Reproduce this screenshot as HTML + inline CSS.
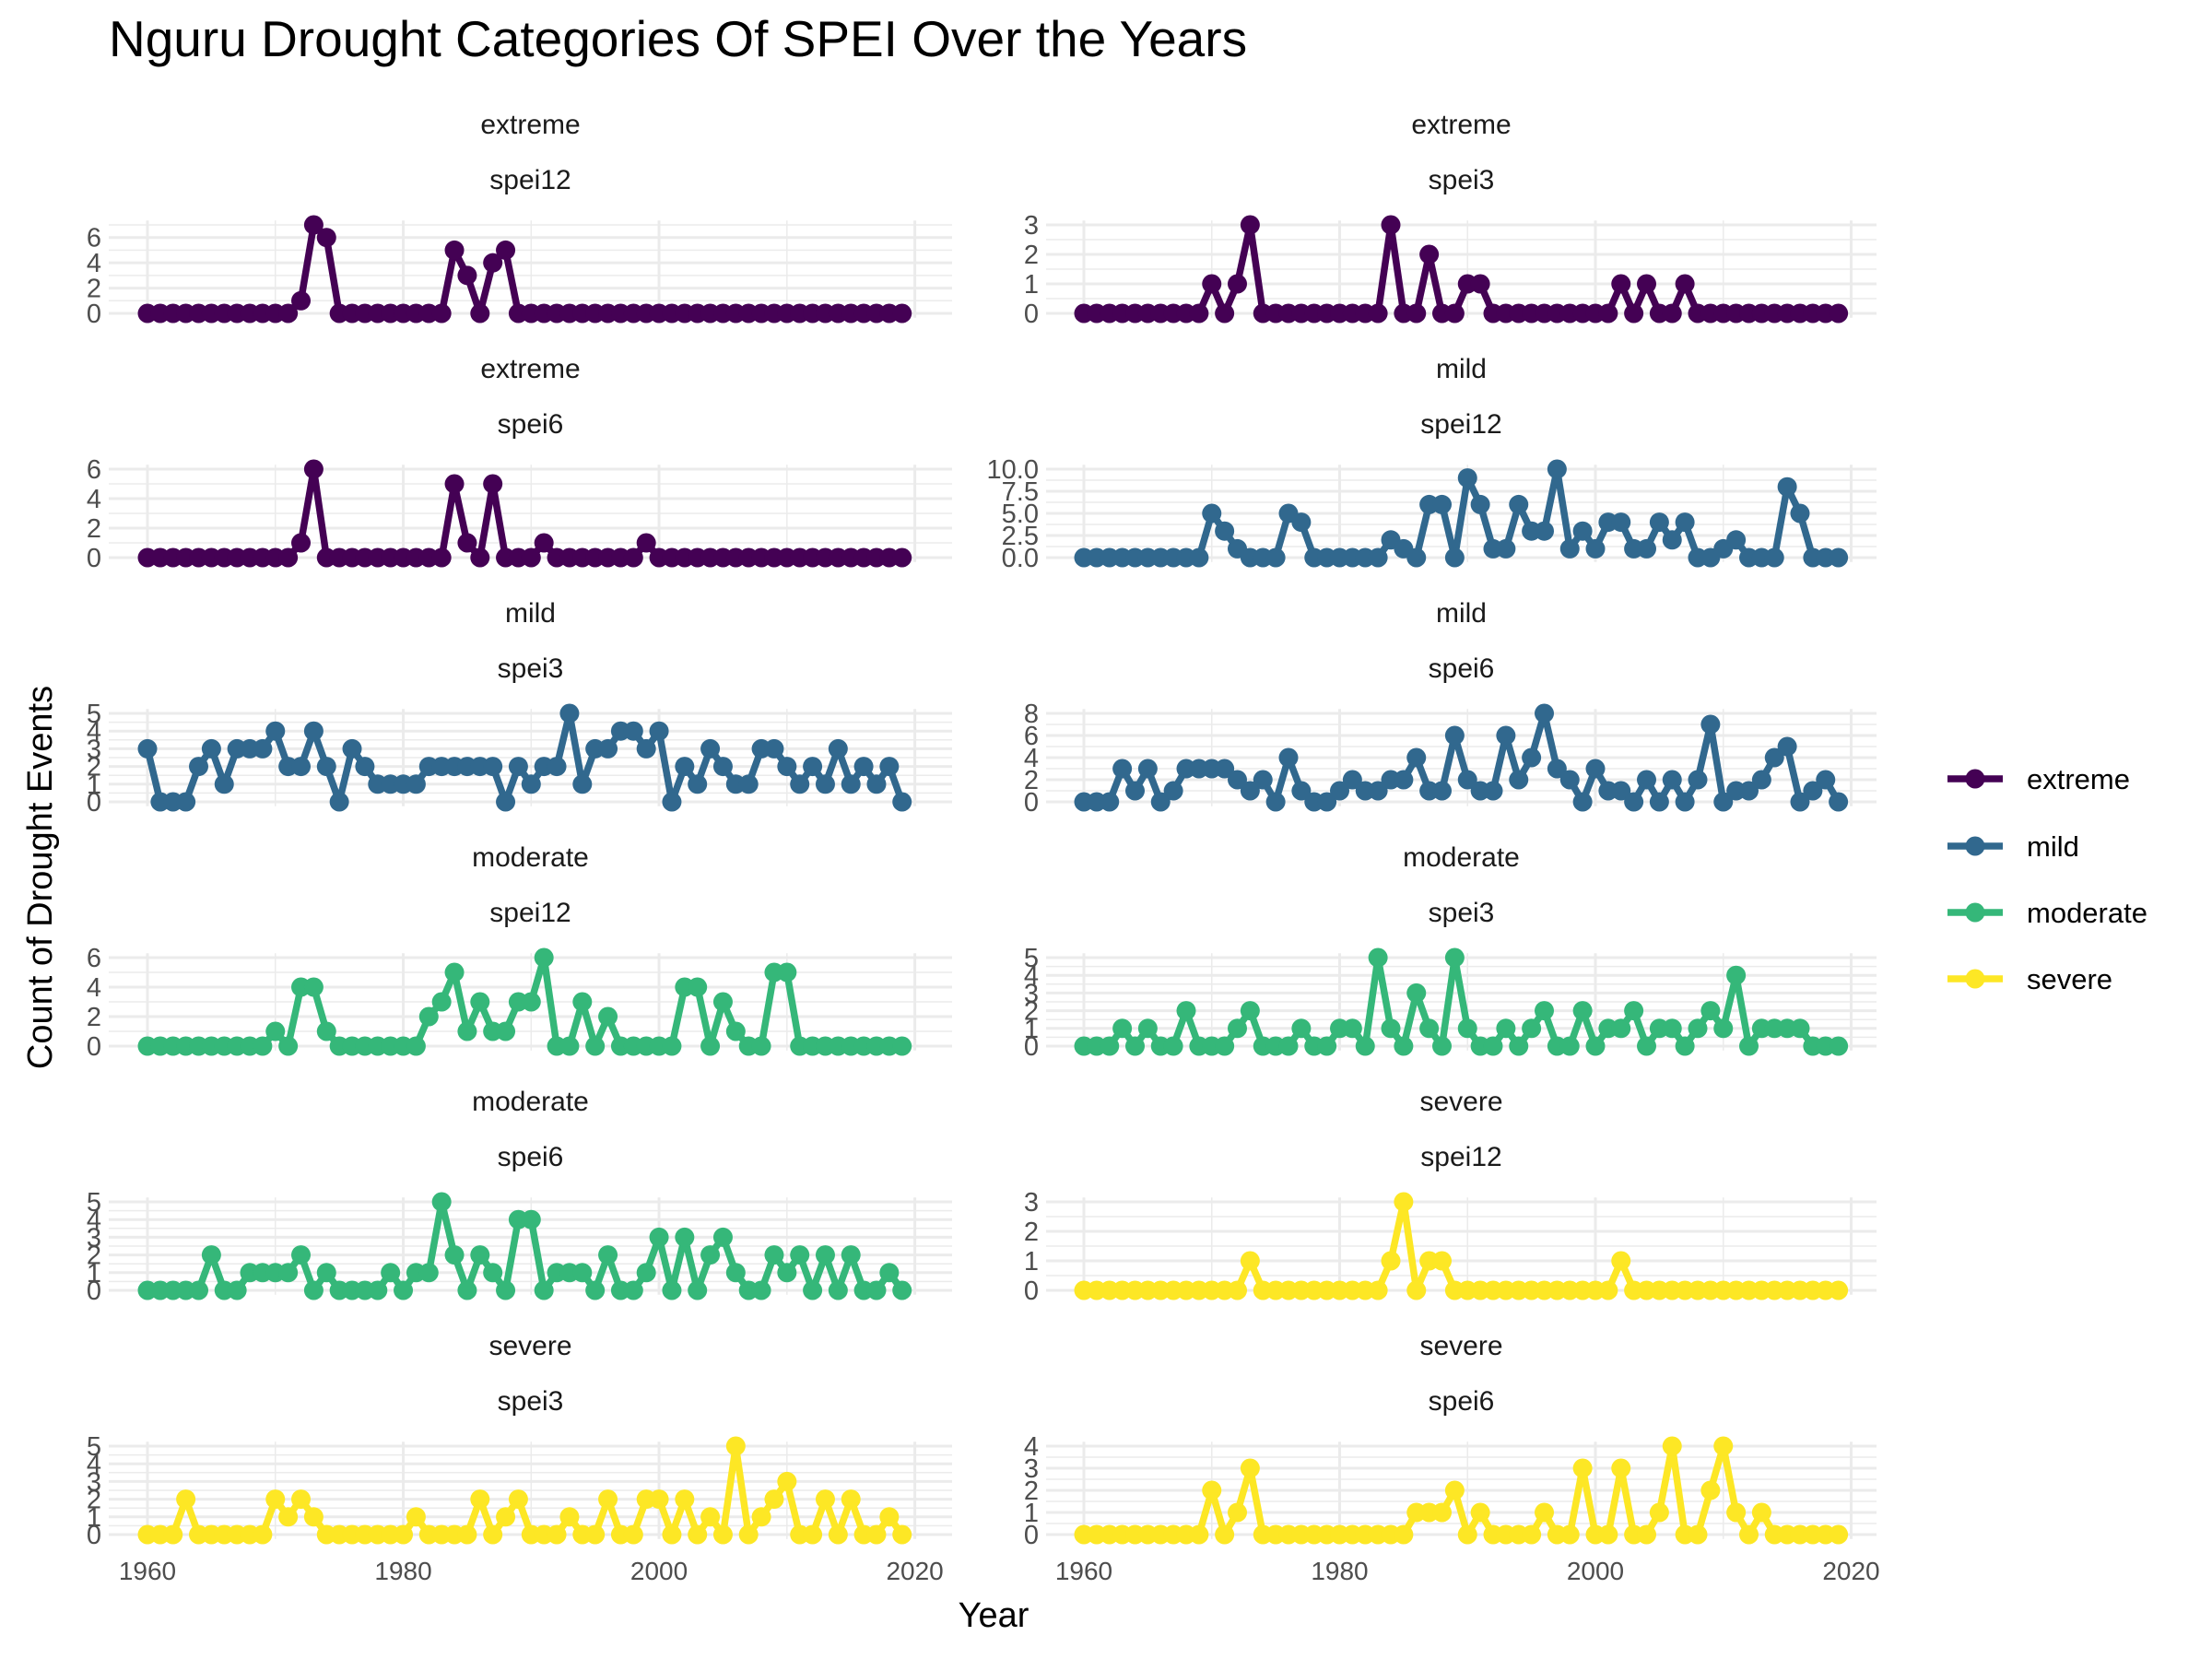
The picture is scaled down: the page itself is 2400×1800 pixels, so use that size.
<!DOCTYPE html>
<html>
<head>
<meta charset="utf-8">
<style>
  html,body{margin:0;padding:0;background:#fff;}
  svg{display:block;font-family:"Liberation Sans",Arial,sans-serif;}
</style>
</head>
<body>
<svg id="chart" width="2400" height="1800" viewBox="0 0 2400 1800" xmlns="http://www.w3.org/2000/svg">
  <rect x="0" y="0" width="2400" height="1800" fill="#ffffff"/>
  <text x="118" y="61" font-size="55" fill="#000">Nguru Drought Categories Of SPEI Over the Years</text>
  <text x="1078" y="1765" font-size="38" text-anchor="middle" fill="#000">Year</text>
  <text x="0" y="0" font-size="38" text-anchor="middle" fill="#000" transform="translate(56,952) rotate(-90)">Count of Drought Events</text>
  <g id="panels"></g>
  <g id="legend"></g>
</svg>
<script>
const years = [];
for (let y = 1960; y <= 2019; y++) years.push(y);
const categories = ["extreme","mild","moderate","severe"];
const extremeSpei12 = [0,0,0,0,0,0,0,0,0,0, 0,0,1,7,6,0,0,0,0,0, 0,0,0,0,5,3,0,4,5,0, 0,0,0,0,0,0,0,0,0,0, 0,0,0,0,0,0,0,0,0,0, 0,0,0,0,0,0,0,0,0,0];
const extremeSpei3 = [0,0,0,0,0,0,0,0,0,0, 1,0,1,3,0,0,0,0,0,0, 0,0,0,0,3,0,0,2,0,0, 1,1,0,0,0,0,0,0,0,0, 0,0,1,0,1,0,0,1,0,0, 0,0,0,0,0,0,0,0,0,0];
const extremeSpei6 = [0,0,0,0,0,0,0,0,0,0, 0,0,1,6,0,0,0,0,0,0, 0,0,0,0,5,1,0,5,0,0, 0,1,0,0,0,0,0,0,0,1, 0,0,0,0,0,0,0,0,0,0, 0,0,0,0,0,0,0,0,0,0];
const mildSpei12 = [0,0,0,0,0,0,0,0,0,0, 5,3,1,0,0,0,5,4,0,0, 0,0,0,0,2,1,0,6,6,0, 9,6,1,1,6,3,3,10,1,3, 1,4,4,1,1,4,2,4,0,0, 1,2,0,0,0,8,5,0,0,0];
const mildSpei3 = [3,0,0,0,2,3,1,3,3,3, 4,2,2,4,2,0,3,2,1,1, 1,1,2,2,2,2,2,2,0,2, 1,2,2,5,1,3,3,4,4,3, 4,0,2,1,3,2,1,1,3,3, 2,1,2,1,3,1,2,1,2,0];
const mildSpei6 = [0,0,0,3,1,3,0,1,3,3, 3,3,2,1,2,0,4,1,0,0, 1,2,1,1,2,2,4,1,1,6, 2,1,1,6,2,4,8,3,2,0, 3,1,1,0,2,0,2,0,2,7, 0,1,1,2,4,5,0,1,2,0];
const moderateSpei12 = [0,0,0,0,0,0,0,0,0,0, 1,0,4,4,1,0,0,0,0,0, 0,0,2,3,5,1,3,1,1,3, 3,6,0,0,3,0,2,0,0,0, 0,0,4,4,0,3,1,0,0,5, 5,0,0,0,0,0,0,0,0,0];
const moderateSpei3 = [0,0,0,1,0,1,0,0,2,0, 0,0,1,2,0,0,0,1,0,0, 1,1,0,5,1,0,3,1,0,5, 1,0,0,1,0,1,2,0,0,2, 0,1,1,2,0,1,1,0,1,2, 1,4,0,1,1,1,1,0,0,0];
const moderateSpei6 = [0,0,0,0,0,2,0,0,1,1, 1,1,2,0,1,0,0,0,0,1, 0,1,1,5,2,0,2,1,0,4, 4,0,1,1,1,0,2,0,0,1, 3,0,3,0,2,3,1,0,0,2, 1,2,0,2,0,2,0,0,1,0];
const severeSpei12 = [0,0,0,0,0,0,0,0,0,0, 0,0,0,1,0,0,0,0,0,0, 0,0,0,0,1,3,0,1,1,0, 0,0,0,0,0,0,0,0,0,0, 0,0,1,0,0,0,0,0,0,0, 0,0,0,0,0,0,0,0,0,0];
const severeSpei3 = [0,0,0,2,0,0,0,0,0,0, 2,1,2,1,0,0,0,0,0,0, 0,1,0,0,0,0,2,0,1,2, 0,0,0,1,0,0,2,0,0,2, 2,0,2,0,1,0,5,0,1,2, 3,0,0,2,0,2,0,0,1,0];
const severeSpei6 = [0,0,0,0,0,0,0,0,0,0, 2,0,1,3,0,0,0,0,0,0, 0,0,0,0,0,0,1,1,1,2, 0,1,0,0,0,0,1,0,0,3, 0,0,3,0,0,1,4,0,0,2, 4,1,0,1,0,0,0,0,0,0];
const xTicks = [1960,1980,2000,2020];
const xMinor = [1970,1990,2010];
const ticks12ext = [0,2,4,6];
const ticks3ext = [0,1,2,3];
const ticks6ext = [0,2,4,6];
const ticks12mild = [0,2.5,5,7.5,10];
const tickLabels12mild = ["0.0","2.5","5.0","7.5","10.0"];
const ticks3mild = [0,1,2,3,4,5];
const ticks6mild = [0,2,4,6,8];
const ticks12mod = [0,2,4,6];
const ticks3mod = [0,1,2,3,4,5];
const ticks6mod = [0,1,2,3,4,5];
const ticks12sev = [0,1,2,3];
const ticks3sev = [0,1,2,3,4,5];
const ticks6sev = [0,1,2,3,4];

const colors = {extreme:"#440154", mild:"#31688E", moderate:"#35B779", severe:"#FDE725"};
const panels = [
  {cat:"extreme", idx:"spei12", vals:extremeSpei12, ticks:ticks12ext},
  {cat:"extreme", idx:"spei3", vals:extremeSpei3, ticks:ticks3ext},
  {cat:"extreme", idx:"spei6", vals:extremeSpei6, ticks:ticks6ext},
  {cat:"mild", idx:"spei12", vals:mildSpei12, ticks:ticks12mild, labels:tickLabels12mild},
  {cat:"mild", idx:"spei3", vals:mildSpei3, ticks:ticks3mild},
  {cat:"mild", idx:"spei6", vals:mildSpei6, ticks:ticks6mild},
  {cat:"moderate", idx:"spei12", vals:moderateSpei12, ticks:ticks12mod},
  {cat:"moderate", idx:"spei3", vals:moderateSpei3, ticks:ticks3mod},
  {cat:"moderate", idx:"spei6", vals:moderateSpei6, ticks:ticks6mod},
  {cat:"severe", idx:"spei12", vals:severeSpei12, ticks:ticks12sev},
  {cat:"severe", idx:"spei3", vals:severeSpei3, ticks:ticks3sev},
  {cat:"severe", idx:"spei6", vals:severeSpei6, ticks:ticks6sev}
];
const NS = "http://www.w3.org/2000/svg";
function mk(tag, attrs, parent){
  const e = document.createElementNS(NS, tag);
  for (const k in attrs) e.setAttribute(k, attrs[k]);
  parent.appendChild(e);
  return e;
}
const root = document.getElementById("panels");
panels.forEach((p, i) => {
  const col = i % 2, row = Math.floor(i / 2);
  const x0 = col === 0 ? 160 : 1176;
  const x1 = col === 0 ? 992.6 : 2008.5;
  const bgL = col === 0 ? 118 : 1135;
  const bgR = col === 0 ? 1033 : 2036;
  const top = 244 + 265 * row, zero = 340 + 265 * row;
  const span = zero - top;
  const ymax = Math.max(...p.vals, 1);
  const xs = v => x0 + (v - 1960) / 60 * (x1 - x0);
  const ys = v => zero - v / ymax * span;
  const g = mk("g", {}, root);
  
  
  const pad = span * 0.05;
  const pt = top - pad, pb = zero + pad;
  for (let k = 0; k < p.ticks.length - 1; k++) {
    const m = (p.ticks[k] + p.ticks[k+1]) / 2;
    mk("line", {x1:bgL, x2:bgR, y1:ys(m), y2:ys(m), stroke:"#ebebeb", "stroke-width":1.5}, g);
  }
  const lastT = p.ticks[p.ticks.length-1];
  const stepT = p.ticks[1] - p.ticks[0];
  if (ys(lastT + stepT/2) >= pt) mk("line", {x1:bgL, x2:bgR, y1:ys(lastT+stepT/2), y2:ys(lastT+stepT/2), stroke:"#ebebeb", "stroke-width":1.5}, g);
  xMinor.forEach(t => mk("line", {x1:xs(t), x2:xs(t), y1:pt, y2:pb, stroke:"#ebebeb", "stroke-width":1.5}, g));
  p.ticks.forEach((t, k) => {
    mk("line", {x1:bgL, x2:bgR, y1:ys(t), y2:ys(t), stroke:"#ebebeb", "stroke-width":3}, g);
    const lab = mk("text", {x:bgL - 8, y:ys(t) + 10, "font-size":29, "text-anchor":"end", fill:"#4d4d4d"}, g);
    lab.textContent = p.labels ? p.labels[k] : String(t);
    
    
  });
  xTicks.forEach(t => mk("line", {x1:xs(t), x2:xs(t), y1:pt, y2:pb, stroke:"#ebebeb", "stroke-width":3}, g));
  const s1 = mk("text", {x:(bgL+bgR)/2, y:zero - 195, "font-size":30, "text-anchor":"middle", fill:"#1a1a1a"}, g);
  s1.textContent = p.cat;
  
  
  const s2 = mk("text", {x:(bgL+bgR)/2, y:zero - 135, "font-size":30, "text-anchor":"middle", fill:"#1a1a1a"}, g);
  s2.textContent = p.idx;
  
  
  const c = colors[p.cat];
  const d = p.vals.map((v, k) => (k ? "L" : "M") + xs(years[k]).toFixed(1) + " " + ys(v).toFixed(1)).join(" ");
  const line = mk("path", {d:d, fill:"none", stroke:c, "stroke-width":7.5, "stroke-linejoin":"round"}, g);
  
  
  p.vals.forEach((v, k) => {
    const dot = mk("circle", {cx:xs(years[k]), cy:ys(v), r:10.5, fill:c}, g);
    
    
  });
  if (row === 5) {
    xTicks.forEach(t => {
      const xl = mk("text", {x:xs(t), y:1714, "font-size":28, "text-anchor":"middle", fill:"#4d4d4d"}, g);
      xl.textContent = String(t);
      
      
    });
  }
});
const leg = document.getElementById("legend");
const legY = [845, 918, 990, 1062];
categories.forEach((cat, k) => {
  const g = mk("g", {}, leg);
  
  
  mk("line", {x1:2113, x2:2173, y1:legY[k], y2:legY[k], stroke:colors[cat], "stroke-width":7.5}, g);
  mk("circle", {cx:2143, cy:legY[k], r:10.5, fill:colors[cat]}, g);
  const t = mk("text", {x:2199, y:legY[k] + 11, "font-size":31, fill:"#000"}, g);
  t.textContent = cat;
});
</script>
</body>
</html>
